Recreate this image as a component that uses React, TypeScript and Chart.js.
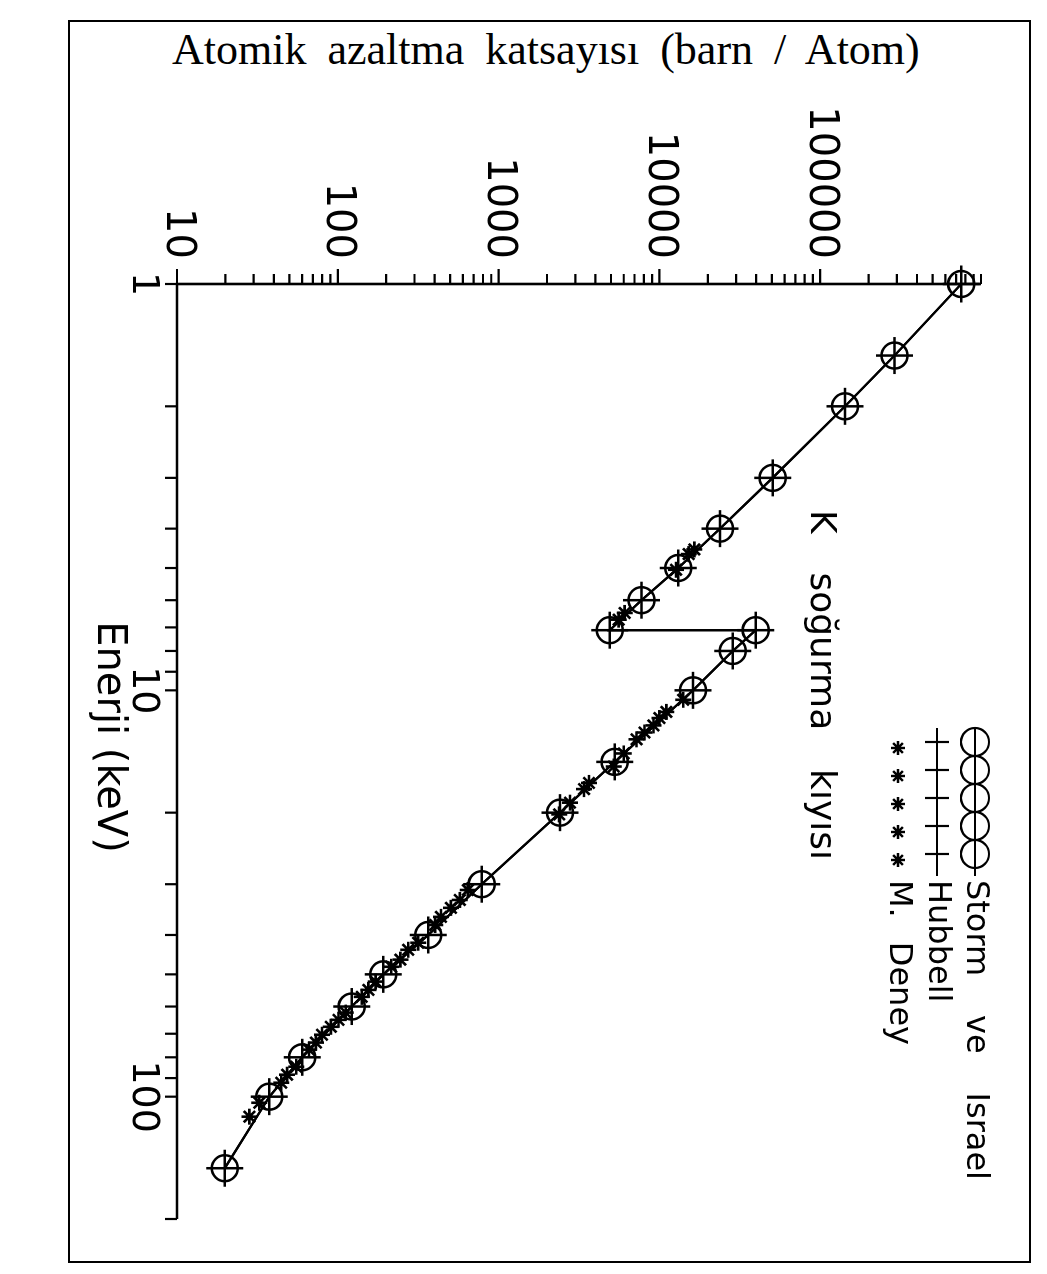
import React, { useEffect, useRef } from "react";
import { Chart, registerables } from "chart.js";

Chart.register(...registerables);

// Energy (keV) of the tabulated points (K edge of Fe at 7.112 keV appears twice)
const energy = [1, 1.5, 2, 3, 4, 5, 6, 7.112, 7.112, 8, 10, 15, 20, 30, 40, 50, 60, 80, 100, 150];
// Storm ve Israel (barn / atom)
const stormIsrael = [753000, 290000, 142600, 50600, 23800, 13100, 7740, 4910, 39700, 28600, 16200, 5270, 2410, 785, 365, 192, 122, 60, 37.5, 19.8];
// Hubbell (barn / atom)
const hubbell = [753000, 290000, 142600, 50600, 23800, 13100, 7740, 4910, 39700, 28600, 16200, 5270, 2410, 785, 365, 192, 122, 60, 37.5, 19.8];
// M. Deney (measurements)
const deneyEnergy = [4.5, 4.62, 5.05, 6.45, 6.7, 10.55, 11.3, 11.7, 12.2, 12.7, 13.2, 14.3, 15.4, 16.9, 17.5, 18.9, 20.2, 31.0, 32.8, 34.3, 36.1, 37.8, 41.8, 43.5, 46.0, 47.9, 52.1, 54.6, 56.8, 62.1, 64.7, 67.3, 70.4, 73.6, 76.6, 84.4, 88.3, 92.4, 103.5, 112];
const deneyValues = [16500, 15200, 12700, 6080, 5580, 14060, 11050, 10000, 9180, 8080, 7210, 6000, 5200, 3650, 3400, 2780, 2380, 644, 574, 505, 438, 403, 316, 274, 245, 215, 172, 155, 141, 112, 101, 90.5, 79.7, 73.1, 66.2, 55.1, 48.4, 44.5, 32.5, 28.2];

// Axis ticks
const mantissas = [1, 2, 3, 4, 5, 6, 7, 8, 9];
const energyDecades = [1, 10];
const energyTicks = [...energyDecades.flatMap((d) => mantissas.map((m) => m * d)), 100, 200];
const energyLabelValues = [1, 10, 100];
const attenDecades = [10, 100, 1000, 10000, 100000];
const attenTicks = [...attenDecades.flatMap((d) => mantissas.map((m) => m * d)), 1000000];
const attenLabelValues = [10, 100, 1000, 10000, 100000];

const xTitle = "Enerji (keV)";
const yTitle = "Atomik azaltma katsayısı (barn / Atom)";
const legendStorm = ["Storm", "ve", "Israel"];
const legendHubbell = ["Hubbell"];
const legendDeney = ["M.", "Deney"];
const edgeLabel = ["K", "soğurma", "kıyısı"];

const CW = 1242; // canvas width (before rotation)
const CH = 962; // canvas height (before rotation)

function drawWords(ctx: CanvasRenderingContext2D, words: string[], start: number, end: number | null, gap: number, y: number) {
  const widths = words.map((w) => ctx.measureText(w).width);
  let g = gap;
  if (end !== null && words.length > 1) {
    const total = widths.reduce((a, b) => a + b, 0);
    g = (end - start - total) / (words.length - 1);
  }
  let x = start;
  words.forEach((w, i) => {
    ctx.fillText(w, x, y);
    x += widths[i] + g;
  });
}

function star(ctx: CanvasRenderingContext2D, c: number, y: number, r: number) {
  ctx.moveTo(c - r, y);
  ctx.lineTo(c + r, y);
  ctx.moveTo(c, y - r);
  ctx.lineTo(c, y + r);
  const d = r * Math.SQRT1_2;
  ctx.moveTo(c - d, y - d);
  ctx.lineTo(c + d, y + d);
  ctx.moveTo(c - d, y + d);
  ctx.lineTo(c + d, y - d);
}

const customPlugin = {
  id: "customAxesLegend",
  beforeDatasetsDraw(chart: any) {
    const { ctx, chartArea: a, scales } = chart;
    const xs = scales.x;
    const ys = scales.y;
    ctx.save();
    ctx.strokeStyle = "#000";
    ctx.lineWidth = 2.6;
    ctx.beginPath();
    ctx.moveTo(a.left, a.top);
    ctx.lineTo(a.left, a.bottom);
    ctx.lineTo(a.right, a.bottom);
    ctx.stroke();
    ctx.lineWidth = 2.2;
    ctx.beginPath();
    for (const t of energyTicks) {
      const p = xs.getPixelForValue(t);
      ctx.moveTo(p, a.bottom);
      ctx.lineTo(p, a.bottom + 12);
    }
    for (const t of attenTicks) {
      const p = ys.getPixelForValue(t);
      const len = attenLabelValues.includes(t) ? 15 : 10;
      ctx.moveTo(a.left, p);
      ctx.lineTo(a.left - len, p);
    }
    ctx.stroke();
    ctx.restore();
  },
  afterDraw(chart: any) {
    const { ctx } = chart;
    ctx.save();
    ctx.fillStyle = "#000";
    ctx.strokeStyle = "#000";
    ctx.textBaseline = "middle";
    ctx.textAlign = "left";

    // Legend
    const rows = [55, 93, 132];
    const symStart = 708;
    const symEnd = 856;
    const centers = [722, 750, 778, 806, 834];
    ctx.lineWidth = 2.2;
    // Storm ve Israel: line + circles
    ctx.beginPath();
    ctx.moveTo(symStart, rows[0]);
    ctx.lineTo(symEnd, rows[0]);
    ctx.stroke();
    for (const c of centers) {
      ctx.beginPath();
      ctx.arc(c, rows[0], 14, 0, Math.PI * 2);
      ctx.stroke();
    }
    // Hubbell: line + crosses
    ctx.beginPath();
    ctx.moveTo(symStart, rows[1]);
    ctx.lineTo(symEnd, rows[1]);
    for (const c of centers) {
      ctx.moveTo(c, rows[1] - 12);
      ctx.lineTo(c, rows[1] + 12);
    }
    ctx.stroke();
    // M. Deney: stars
    ctx.lineWidth = 2.4;
    ctx.beginPath();
    for (const c of centers) star(ctx, c + 6, rows[2], 7);
    ctx.stroke();

    ctx.font = '32px "DejaVu Sans"';
    drawWords(ctx, legendStorm, 860, 1160, 0, rows[0]);
    drawWords(ctx, legendHubbell, 860, null, 0, rows[1]);
    drawWords(ctx, legendDeney, 860, null, 24, rows[2]);

    // K edge label
    ctx.font = '36px "DejaVu Sans"';
    drawWords(ctx, edgeLabel, 490, 840, 0, 210);

    // X axis title
    ctx.font = '40px "DejaVu Sans"';
    ctx.textAlign = "center";
    ctx.fillText(xTitle, 717, 922);
    ctx.restore();
  },
};

export default function App() {
  const ref = useRef<HTMLCanvasElement>(null);

  useEffect(() => {
    const canvas = ref.current;
    if (!canvas) return;
    const chart = new Chart(canvas, {
      type: "scatter",
      data: {
        datasets: [
          {
            label: "Storm ve Israel",
            data: energy.map((e, i) => ({ x: e, y: stormIsrael[i] })),
            showLine: true,
            borderColor: "#000",
            borderWidth: 2.2,
            pointStyle: "circle",
            pointRadius: 13,
            pointBorderWidth: 2.5,
            pointBackgroundColor: "rgba(0,0,0,0)",
            pointBorderColor: "#000",
            clip: false,
          },
          {
            label: "Hubbell",
            data: energy.map((e, i) => ({ x: e, y: hubbell[i] })),
            showLine: true,
            borderColor: "#000",
            borderWidth: 2.2,
            pointStyle: "cross",
            pointRadius: 18.5,
            pointBorderWidth: 2.5,
            pointBorderColor: "#000",
            clip: false,
          },
          {
            label: "M. Deney",
            data: deneyEnergy.map((e, i) => ({ x: e, y: deneyValues[i] })),
            showLine: false,
            pointStyle: "star",
            pointRadius: 8,
            pointBorderWidth: 2.6,
            pointBorderColor: "#000",
            clip: false,
          },
        ],
      },
      options: {
        responsive: false,
        animation: false,
        devicePixelRatio: 1,
        layout: { padding: { top: 40, right: 43, left: 0, bottom: 0 } },
        plugins: { legend: { display: false }, tooltip: { enabled: false } },
        scales: {
          x: {
            type: "logarithmic",
            min: 1,
            max: 200,
            position: "bottom",
            afterFit: (s: any) => {
              s.height = 109;
            },
            afterBuildTicks: (s: any) => {
              s.ticks = energyTicks.map((v) => ({ value: v }));
            },
            grid: { display: false, drawTicks: false },
            border: { display: false },
            ticks: {
              autoSkip: false,
              maxRotation: 0,
              minRotation: 0,
              padding: 11,
              color: "#000",
              font: { family: "DejaVu Sans", size: 38 },
              callback: (v: any) => (energyLabelValues.includes(Number(v)) ? String(v) : ""),
            },
          },
          y: {
            type: "logarithmic",
            min: 10,
            max: 1000000,
            position: "left",
            afterFit: (s: any) => {
              s.width = 264;
            },
            afterBuildTicks: (s: any) => {
              s.ticks = attenTicks.map((v) => ({ value: v }));
            },
            grid: { display: false, drawTicks: false },
            border: { display: false },
            ticks: {
              autoSkip: false,
              padding: 25,
              color: "#000",
              font: { family: "DejaVu Sans", size: 40 },
              callback: (v: any) => (attenLabelValues.includes(Number(v)) ? String(v) : ""),
            },
          },
        },
      } as any,
      plugins: [customPlugin],
    });
    return () => chart.destroy();
  }, []);

  return (
    <div style={{ position: "absolute", left: 0, top: 0, width: 1047, height: 1274, background: "#fff", overflow: "hidden" }}>
      <div
        style={{
          position: "absolute",
          left: 68,
          top: 20,
          width: 963,
          height: 1243,
          border: "2px solid #000",
          boxSizing: "border-box",
        }}
      />
      <div
        style={{
          position: "absolute",
          left: 172,
          top: 25,
          whiteSpace: "nowrap",
          fontFamily: '"Liberation Serif", serif',
          fontSize: 44,
          wordSpacing: 10,
          color: "#000",
          lineHeight: "50px",
        }}
      >
        {yTitle}
      </div>
      <canvas
        ref={ref}
        width={CW}
        height={CH}
        style={{
          position: "absolute",
          left: 1030,
          top: 20,
          width: CW,
          height: CH,
          transform: "rotate(90deg)",
          transformOrigin: "0 0",
        }}
      />
    </div>
  );
}
